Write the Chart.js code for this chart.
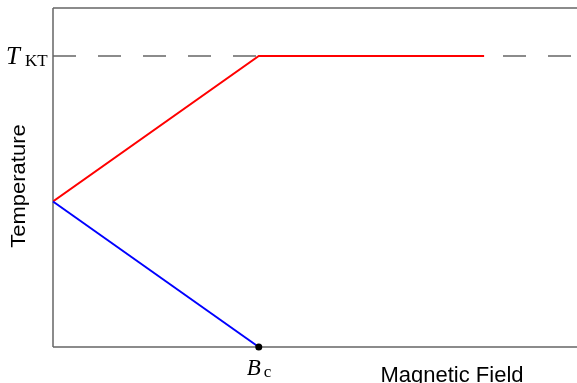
<!DOCTYPE html>
<html>
<head>
<meta charset="utf-8">
<script src="https://cdn.jsdelivr.net/npm/chart.js@4"></script>
<style>
html,body{margin:0;padding:0;background:#fff;overflow:hidden;}
canvas{display:block;}
</style>
</head>
<body>
<canvas id="c" width="577" height="383"></canvas>
<script>
// Data (x: magnetic field in units of Bc, y: temperature in units of T_KT)
const xRange = [0, 2.527];
const yRange = [0, 1.165];
const tKT = 1;
const bC = 1;
const upperBoundary = [{x:0, y:0.5}, {x:1, y:1}, {x:2.095, y:1}];
const lowerBoundary = [{x:0, y:0.5}, {x:1, y:0}];
const ktLine = [{x:0, y:1}, {x:2.527, y:1}];
const xLabelTitle = 'Magnetic Field';
const yLabelTitle = 'Temperature';

const annot = {
  id:'annot',
  beforeDatasetsDraw(chart){
    const ctx = chart.ctx;
    const a = chart.chartArea;
    const w = chart.width;
    ctx.save();
    ctx.strokeStyle = '#666';
    ctx.lineWidth = 1.5;
    ctx.beginPath();
    ctx.moveTo(a.left, a.top); ctx.lineTo(w, a.top);
    ctx.moveTo(a.left, a.top); ctx.lineTo(a.left, a.bottom);
    ctx.moveTo(a.left, a.bottom); ctx.lineTo(w, a.bottom);
    ctx.stroke();
    ctx.restore();
  },
  afterDraw(chart){
    const ctx = chart.ctx;
    const xs = chart.scales.x, ys = chart.scales.y;
    const a = chart.chartArea;
    ctx.save();
    // T_KT label
    const yk = ys.getPixelForValue(tKT);
    ctx.fillStyle = '#000';
    ctx.textBaseline = 'alphabetic';
    ctx.textAlign = 'left';
    ctx.font = 'italic 25px "Liberation Serif"';
    ctx.fillText('T', 6, yk + 8);
    ctx.font = '17px "Liberation Serif"';
    ctx.fillText('KT', 25, yk + 10);
    // B_c label
    const xb = xs.getPixelForValue(bC);
    ctx.font = 'italic 23px "Liberation Serif"';
    ctx.fillText('B', xb - 12, a.bottom + 28);
    ctx.font = '17px "Liberation Serif"';
    ctx.fillText('c', xb + 5, a.bottom + 30);
    // axis titles
    ctx.font = '22px "Liberation Sans"';
    ctx.textAlign = 'center';
    ctx.fillText(xLabelTitle, 452, 382);
    ctx.translate(25, 186);
    ctx.rotate(-Math.PI/2);
    ctx.scale(1, 0.88);
    ctx.fillText(yLabelTitle, 0, 0);
    ctx.restore();
  }
};

new Chart(document.getElementById('c'), {
  type:'scatter',
  data:{datasets:[
    {data:ktLine, showLine:true, borderColor:'#666', borderWidth:1.5, borderDash:[23,22], pointRadius:0, order:10},
    {data:upperBoundary, showLine:true, borderColor:'#ff0000', borderWidth:2, pointRadius:0, order:2},
    {data:lowerBoundary, showLine:true, borderColor:'#0000ff', borderWidth:2, clip:false, order:1,
     pointRadius:[0,3.5], pointBackgroundColor:'#000', pointBorderColor:'#000', pointBorderWidth:0}
  ]},
  options:{
    responsive:false, animation:false,
    layout:{padding:{left:53, top:8, right:0, bottom:36}},
    plugins:{legend:{display:false}, tooltip:{enabled:false}},
    scales:{
      x:{type:'linear', min:xRange[0], max:xRange[1], display:false},
      y:{type:'linear', min:yRange[0], max:yRange[1], display:false}
    }
  },
  plugins:[annot]
});
</script>
</body>
</html>
